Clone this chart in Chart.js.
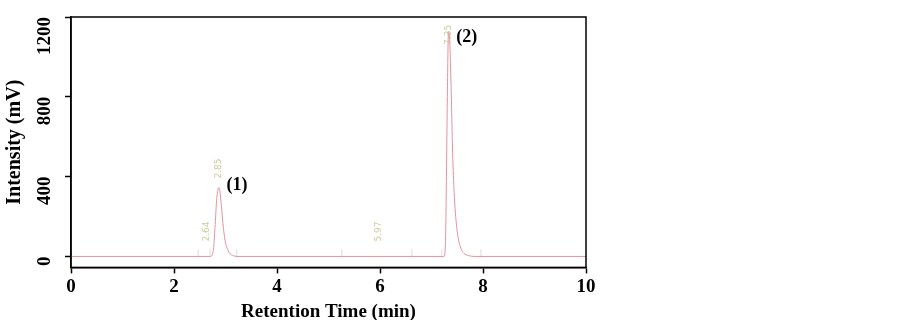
<!DOCTYPE html>
<html>
<head>
<meta charset="utf-8">
<style>
  html, body { margin: 0; padding: 0; background: #fff; }
  #wrap { width: 903px; height: 320px; }
</style>
</head>
<body>
<div id="wrap"><canvas id="myChart"></canvas></div>

<script src="https://cdn.jsdelivr.net/npm/chart.js"></script>
<script>
// chromatogram trace (min, mV)
const timeMin = [0, 2.70, 2.74, 2.77, 2.80, 2.83, 2.87, 2.89, 2.92, 2.95, 2.98, 3.01, 3.05, 3.09, 3.15, 3.22,
                 7.24, 7.27, 7.29, 7.31, 7.33, 7.35, 7.37, 7.39, 7.41, 7.44, 7.48, 7.52, 7.57, 7.63, 7.72, 7.85, 10];
const intensity = [0, 0, 6, 45, 160, 290, 345, 330, 255, 165, 100, 58, 30, 13, 4, 0,
                   0, 60, 400, 850, 1125, 1100, 950, 750, 520, 320, 170, 90, 40, 15, 4, 0, 0];

// integration markers on the baseline
const markerTimes = [2.47, 2.70, 3.22, 5.26, 6.62, 7.20, 7.96];

// retention time labels printed by the instrument
const rtLabels = ['2.64', '2.85', '5.97', '7.35'];
const rtLabelX = [2.64, 2.86, 5.97, 7.33];
const rtLabelY = [75, 390, 75, 1060];

// peak numbers
const peakNames = ['(1)', '(2)'];
const peakX = [3.02, 7.48];
const peakY = [355, 1100];

const xTicks = [0, 2, 4, 6, 8, 10];
const yTicks = [0, 400, 800, 1200];

const serif = '"Liberation Serif", "Times New Roman", serif';

const frame = {
  id: 'frame',
  afterDatasetsDraw(chart) {
    const {ctx, chartArea: a, scales: {x, y}} = chart;
    ctx.save();
    // instrument labels
    ctx.fillStyle = '#c9cc9c';
    ctx.font = '9px "DejaVu Sans", sans-serif';
    ctx.textAlign = 'left';
    ctx.textBaseline = 'middle';
    rtLabels.forEach((t, i) => {
      ctx.save();
      ctx.translate(x.getPixelForValue(rtLabelX[i]), y.getPixelForValue(rtLabelY[i]));
      ctx.rotate(-Math.PI / 2);
      ctx.fillText(t, 0, 0);
      ctx.restore();
    });
    // peak numbers
    ctx.fillStyle = '#000';
    ctx.font = 'bold 18px ' + serif;
    ctx.textAlign = 'left';
    peakNames.forEach((t, i) => {
      ctx.fillText(t, x.getPixelForValue(peakX[i]), y.getPixelForValue(peakY[i]));
    });
    // box
    ctx.strokeStyle = '#000';
    ctx.lineWidth = 1.5;
    ctx.strokeRect(a.left, a.top, a.right - a.left, a.bottom - a.top);
    ctx.restore();
  }
};

new Chart(document.getElementById('myChart'), {
  type: 'scatter',
  data: {
    datasets: [
      {
        label: 'trace',
        data: timeMin.map((t, i) => ({x: t, y: intensity[i]})),
        showLine: true,
        borderColor: '#e2939d',
        borderWidth: 1,
        pointRadius: 0,
        cubicInterpolationMode: 'monotone'
      },
      {
        label: 'markers',
        data: markerTimes.map(t => ({x: t, y: 15})),
        pointStyle: 'line',
        rotation: 90,
        pointRadius: 4,
        borderColor: '#dcdcdc',
        borderWidth: 1,
        showLine: false
      }
    ]
  },
  options: {
    responsive: true,
    maintainAspectRatio: false,
    animation: false,
    layout: { padding: { left: 0, top: 17, right: 317, bottom: -3 } },
    plugins: { legend: { display: false }, tooltip: { enabled: false } },
    scales: {
      x: {
        type: 'linear',
        min: 0, max: 10,
        afterBuildTicks: s => { s.ticks = xTicks.map(v => ({value: v})); },
        grid: { drawOnChartArea: false, drawTicks: true, tickLength: 6, tickColor: '#000', tickWidth: 1.5 },
        border: { color: '#000', width: 1.5 },
        ticks: { color: '#000', font: { family: serif, size: 19, weight: 'bold' }, padding: 2, maxRotation: 0, callback: v => String(v) },
        title: { display: true, text: 'Retention Time (min)', color: '#000', font: { family: serif, size: 19, weight: 'bold' }, padding: { top: 0, bottom: 0 } }
      },
      y: {
        min: -55, max: 1200,
        afterBuildTicks: s => { s.ticks = yTicks.map(v => ({value: v})); },
        afterFit: s => { s.width = 71; s.paddingTop = 0; s.paddingBottom = 0; },
        grid: { drawOnChartArea: false, drawTicks: true, tickLength: 6, tickColor: '#000', tickWidth: 1.5 },
        border: { color: '#000', width: 1.5 },
        ticks: { color: '#000', font: { family: serif, size: 19, weight: 'bold' }, padding: 20, minRotation: 90, maxRotation: 90, callback: v => String(v) },
        title: { display: true, text: 'Intensity (mV)', color: '#000', font: { family: serif, size: 20, weight: 'bold' }, padding: { top: 3, bottom: 0 } }
      }
    }
  },
  plugins: [frame]
});
</script>
</body>
</html>
